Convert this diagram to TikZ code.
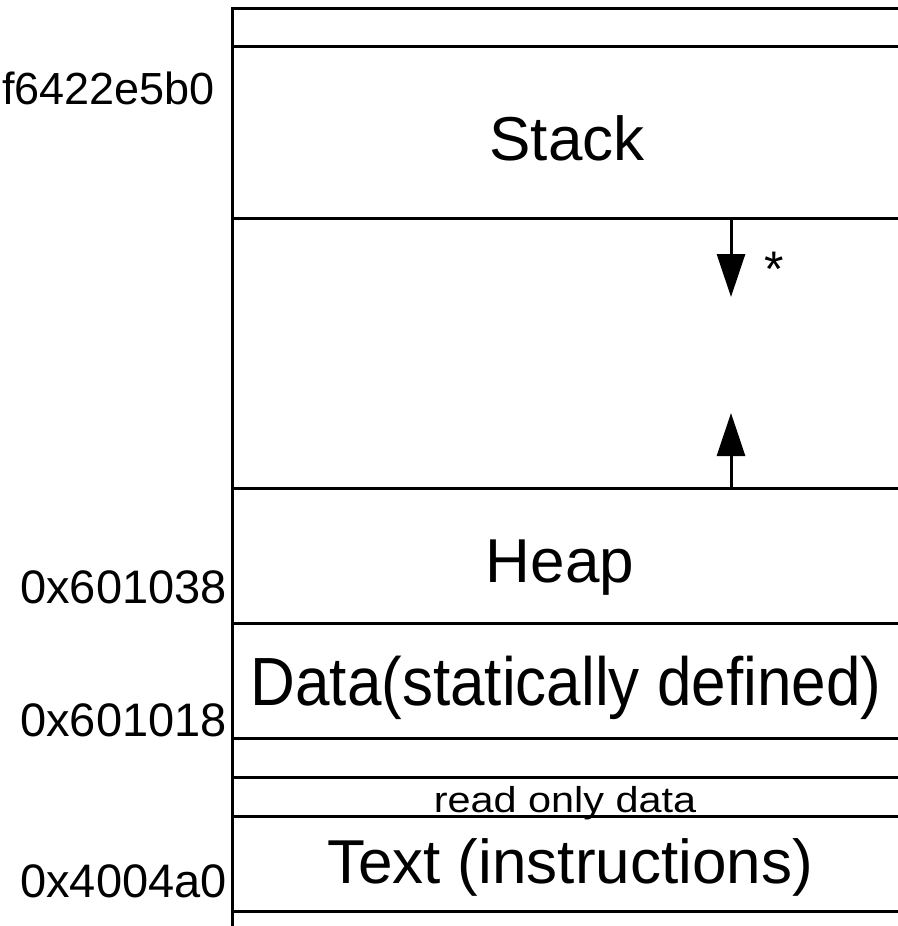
\documentclass[tikz,border=0pt]{standalone}
\usepackage{fontspec}
\setmainfont{Liberation Sans}
\usetikzlibrary{arrows.meta, positioning}

\begin{document}
\begin{tikzpicture}[
    x=1bp, y=-1bp,
    wall/.style={line width=3bp},
    arrow/.style={-{Triangle[length=43bp, width=28bp]}, line width=3bp},
    seg/.style={font=\fontsize{62bp}{70bp}\selectfont, anchor=base, inner sep=0pt},
    addr/.style={font=\fontsize{47bp}{54bp}\selectfont, anchor=base east, inner sep=0pt}
]

\clip (0,0) rectangle (898,926);

% Bordas do mapa de memoria
\draw[wall] (232,926) -- (232,8) -- (898,8);
\foreach \y in {46.5,218,488,623,738,777,816,911}
    \draw[wall] (232,\y) -- (898,\y);

% Segmentos
\node[seg] (stack) at (567,160) {Stack};
\node[seg] (heap) at (560,582) {Heap};
\node[seg] (data) at (566,705) {\scalebox{1}[1.1]{Data(statically defined)}};
\node[seg, font=\fontsize{36bp}{40bp}\selectfont] (rodata) at (565,812) {\scalebox{1.15}[1]{read only data}};
\node[seg] (text) at (570,883) {Text (instructions)};

% Enderecos
\node[addr, font=\fontsize{45bp}{52bp}\selectfont] (addrstack) at (215,104) {f6422e5b0};
\node[addr] (addrheap) at (227,603) {0x601038};
\node[addr] (addrdata) at (227,736) {0x601018};
\node[addr] (addrtext) at (227,897) {0x4004a0};

% Setas de crescimento
\coordinate (stackbot) at (731,218);
\coordinate (stackend) at (731,297);
\coordinate (heaptop) at (731,488);
\coordinate (heapend) at (731,413);
\draw[arrow] (stackbot) -- (stackend);
\draw[arrow] (heaptop) -- (heapend);
\node[font=\fontsize{50bp}{56bp}\selectfont, anchor=base, inner sep=0pt] (star) at (774,286) {*};

\end{tikzpicture}
\end{document}
